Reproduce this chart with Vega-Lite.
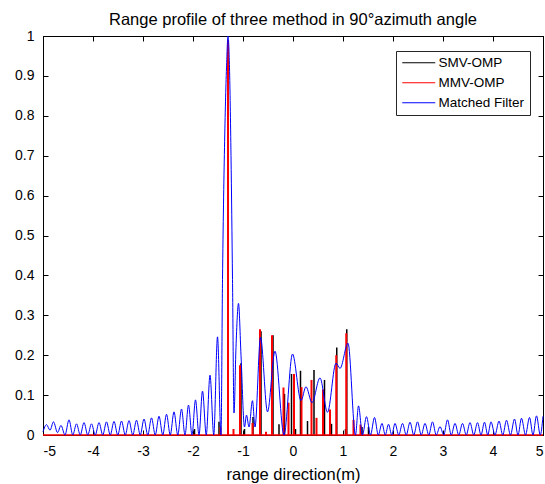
{
"$schema": "https://vega.github.io/schema/vega-lite/v6.json",
"width": 500,
"height": 399,
"autosize": {"type": "none"},
"padding": {"left": 43, "top": 36, "right": 2, "bottom": 49},
"title": {"text": "Range profile of three method in 90°azimuth angle", "fontSize": 16.5, "fontWeight": "normal", "color": "#000", "font": "Liberation Sans", "offset": 1},
"config": {
  "font": "Liberation Sans",
  "view": {"stroke": "#000", "strokeWidth": 1},
  "axis": {"grid": false, "domainColor": "#000", "tickColor": "#000", "labelColor": "#000", "titleColor": "#000", "labelFontSize": 14, "titleFontSize": 16.5, "titleFontWeight": "normal", "tickSize": -5, "labelPadding": 14, "labelFont": "Liberation Sans", "titleFont": "Liberation Sans"}
},
"datasets": {
  "mf": [
    {"x": -5.0, "y": 0.008}, {"x": -4.93, "y": 0.026}, {"x": -4.86, "y": 0.012}, {"x": -4.79, "y": 0.033}, {"x": -4.71, "y": 0.006}, {"x": -4.64, "y": 0.024}, {"x": -4.56, "y": 0}, {"x": -4.48, "y": 0.038}, {"x": -4.405, "y": 0}, {"x": -4.33, "y": 0.028}, {"x": -4.255, "y": 0}, {"x": -4.18, "y": 0.031}, {"x": -4.105, "y": 0}, {"x": -4.03, "y": 0.028}, {"x": -3.955, "y": 0}, {"x": -3.88, "y": 0.031}, {"x": -3.805, "y": 0}, {"x": -3.73, "y": 0.033}, {"x": -3.655, "y": 0}, {"x": -3.58, "y": 0.034}, {"x": -3.505, "y": 0}, {"x": -3.43, "y": 0.035}, {"x": -3.355, "y": 0}, {"x": -3.28, "y": 0.036}, {"x": -3.205, "y": 0}, {"x": -3.13, "y": 0.037}, {"x": -3.055, "y": 0}, {"x": -2.98, "y": 0.04}, {"x": -2.905, "y": 0}, {"x": -2.83, "y": 0.043}, {"x": -2.755, "y": 0}, {"x": -2.68, "y": 0.047}, {"x": -2.605, "y": 0}, {"x": -2.53, "y": 0.052}, {"x": -2.455, "y": 0}, {"x": -2.38, "y": 0.058}, {"x": -2.305, "y": 0}, {"x": -2.23, "y": 0.065}, {"x": -2.16, "y": 0}, {"x": -2.09, "y": 0.075}, {"x": -2.02, "y": 0}, {"x": -1.95, "y": 0.088}, {"x": -1.88, "y": 0}, {"x": -1.81, "y": 0.11}, {"x": -1.735, "y": 0}, {"x": -1.66, "y": 0.15}, {"x": -1.585, "y": 0}, {"x": -1.51, "y": 0.246}, {"x": -1.44, "y": 0},
    {"x": -1.41, "y": 0.39}, {"x": -1.37, "y": 0.72}, {"x": -1.33, "y": 0.92}, {"x": -1.30, "y": 1.0}, {"x": -1.27, "y": 0.92}, {"x": -1.24, "y": 0.7}, {"x": -1.21, "y": 0.39}, {"x": -1.18, "y": 0.055}, {"x": -1.14, "y": 0.22}, {"x": -1.09, "y": 0.33}, {"x": -1.04, "y": 0.2}, {"x": -0.97, "y": 0.02}, {"x": -0.93, "y": 0.05}, {"x": -0.88, "y": 0.02}, {"x": -0.81, "y": 0.086}, {"x": -0.76, "y": 0.02}, {"x": -0.65, "y": 0.245}, {"x": -0.51, "y": 0.058}, {"x": -0.36, "y": 0.21}, {"x": -0.18, "y": 0}, {"x": -0.01, "y": 0.203}, {"x": 0.16, "y": 0.086}, {"x": 0.26, "y": 0.121}, {"x": 0.38, "y": 0.081}, {"x": 0.54, "y": 0.143}, {"x": 0.69, "y": 0.057}, {"x": 0.86, "y": 0.18}, {"x": 0.94, "y": 0.167}, {"x": 1.10, "y": 0.23}, {"x": 1.25, "y": 0},
    {"x": 1.31, "y": 0.073}, {"x": 1.39, "y": 0}, {"x": 1.47, "y": 0.046}, {"x": 1.55, "y": 0}, {"x": 1.63, "y": 0.044}, {"x": 1.705, "y": 0}, {"x": 1.78, "y": 0.029}, {"x": 1.845, "y": 0}, {"x": 1.91, "y": 0.027}, {"x": 1.975, "y": 0}, {"x": 2.04, "y": 0.029}, {"x": 2.115, "y": 0}, {"x": 2.19, "y": 0.029}, {"x": 2.265, "y": 0}, {"x": 2.34, "y": 0.032}, {"x": 2.415, "y": 0}, {"x": 2.49, "y": 0.033}, {"x": 2.565, "y": 0}, {"x": 2.64, "y": 0.029}, {"x": 2.715, "y": 0}, {"x": 2.79, "y": 0.033}, {"x": 2.865, "y": 0}, {"x": 2.94, "y": 0.021}, {"x": 3.015, "y": 0}, {"x": 3.09, "y": 0.038}, {"x": 3.165, "y": 0}, {"x": 3.24, "y": 0.029}, {"x": 3.315, "y": 0}, {"x": 3.39, "y": 0.029}, {"x": 3.465, "y": 0}, {"x": 3.54, "y": 0.031}, {"x": 3.615, "y": 0}, {"x": 3.69, "y": 0.031}, {"x": 3.76, "y": 0}, {"x": 3.83, "y": 0.032}, {"x": 3.895, "y": 0}, {"x": 3.96, "y": 0.033}, {"x": 4.04, "y": 0}, {"x": 4.12, "y": 0.035}, {"x": 4.195, "y": 0}, {"x": 4.27, "y": 0.037}, {"x": 4.35, "y": 0}, {"x": 4.43, "y": 0.04}, {"x": 4.5, "y": 0}, {"x": 4.57, "y": 0.042}, {"x": 4.65, "y": 0}, {"x": 4.73, "y": 0.044}, {"x": 4.8, "y": 0}, {"x": 4.87, "y": 0.048}, {"x": 4.945, "y": 0}, {"x": 5.0, "y": 0.047}
  ],
  "spk": [
    {"x": -1.97, "v": 0.015, "s": "SMV-OMP"}, {"x": -1.48, "v": 0.033, "s": "SMV-OMP"}, {"x": -1.30, "v": 0.98, "s": "SMV-OMP"}, {"x": -1.04, "v": 0.18, "s": "SMV-OMP"}, {"x": -0.97, "v": 0.015, "s": "SMV-OMP"}, {"x": -0.80, "v": 0.045, "s": "SMV-OMP"}, {"x": -0.64, "v": 0.26, "s": "SMV-OMP"}, {"x": -0.40, "v": 0.25, "s": "SMV-OMP"}, {"x": -0.28, "v": 0.027, "s": "SMV-OMP"}, {"x": -0.17, "v": 0.103, "s": "SMV-OMP"}, {"x": -0.03, "v": 0.153, "s": "SMV-OMP"}, {"x": 0.05, "v": 0.015, "s": "SMV-OMP"}, {"x": 0.15, "v": 0.161, "s": "SMV-OMP"}, {"x": 0.29, "v": 0.035, "s": "SMV-OMP"}, {"x": 0.42, "v": 0.163, "s": "SMV-OMP"}, {"x": 0.63, "v": 0.138, "s": "SMV-OMP"}, {"x": 0.77, "v": 0.028, "s": "SMV-OMP"}, {"x": 0.875, "v": 0.219, "s": "SMV-OMP"}, {"x": 1.05, "v": 0.015, "s": "SMV-OMP"}, {"x": 1.075, "v": 0.265, "s": "SMV-OMP"}, {"x": 1.38, "v": 0.02, "s": "SMV-OMP"}, {"x": 1.51, "v": 0.02, "s": "SMV-OMP"},
    {"x": -1.45, "v": 0.02, "s": "MMV-OMP"}, {"x": -1.30, "v": 0.99, "s": "MMV-OMP"}, {"x": -1.19, "v": 0.015, "s": "MMV-OMP"}, {"x": -1.06, "v": 0.175, "s": "MMV-OMP"}, {"x": -0.81, "v": 0.03, "s": "MMV-OMP"}, {"x": -0.66, "v": 0.265, "s": "MMV-OMP"}, {"x": -0.54, "v": 0.008, "s": "MMV-OMP"}, {"x": -0.42, "v": 0.25, "s": "MMV-OMP"}, {"x": -0.19, "v": 0.119, "s": "MMV-OMP"}, {"x": -0.09, "v": 0.081, "s": "MMV-OMP"}, {"x": 0.02, "v": 0.153, "s": "MMV-OMP"}, {"x": 0.17, "v": 0.12, "s": "MMV-OMP"}, {"x": 0.37, "v": 0.138, "s": "MMV-OMP"}, {"x": 0.47, "v": 0.043, "s": "MMV-OMP"}, {"x": 0.60, "v": 0.114, "s": "MMV-OMP"}, {"x": 0.74, "v": 0.064, "s": "MMV-OMP"}, {"x": 0.865, "v": 0.20, "s": "MMV-OMP"}, {"x": 1.065, "v": 0.255, "s": "MMV-OMP"}, {"x": 1.21, "v": 0.038, "s": "MMV-OMP"}, {"x": 1.35, "v": 0.026, "s": "MMV-OMP"}
  ]
},
"resolve": {"axis": {"x": "independent", "y": "independent"}},
"layer": [
  {
    "data": {"name": "spk"},
    "transform": [{"filter": "datum.s === 'SMV-OMP'"}],
    "mark": {"type": "rule", "strokeWidth": 1.5},
    "encoding": {
      "x": {"field": "x", "type": "quantitative", "scale": {"domain": [-5, 5], "nice": false}, "axis": {"orient": "bottom", "values": [-5, -4, -3, -2, -1, 0, 1, 2, 3, 4, 5], "labelExpr": "'' + datum.value", "title": "range direction(m)", "titlePadding": 8}},
      "y": {"field": "v", "type": "quantitative", "scale": {"domain": [0, 1], "nice": false}, "axis": {"orient": "left", "values": [0, 0.1, 0.2, 0.3, 0.4, 0.5, 0.6, 0.7, 0.8, 0.9, 1], "labelExpr": "'' + datum.value", "title": null}},
      "y2": {"datum": 0},
      "color": {"field": "s", "type": "nominal", "scale": {"domain": ["SMV-OMP", "MMV-OMP", "Matched Filter"], "range": ["#000000", "#ff0000", "#0000ff"]},
        "legend": {"title": null, "orient": "none", "legendX": 353, "legendY": 15, "symbolType": "M-1,0H5", "symbolSize": 121, "symbolStrokeWidth": 1, "symbolOffset": 0, "labelOffset": 24, "labelFontSize": 13.5, "labelColor": "#000", "labelFont": "Liberation Sans", "padding": 5, "rowPadding": 5, "strokeColor": "#262626", "fillColor": "#ffffff"}}
    }
  },
  {
    "data": {"name": "spk"},
    "transform": [{"filter": "datum.s === 'MMV-OMP'"}],
    "mark": {"type": "rule", "strokeWidth": 2},
    "encoding": {
      "x": {"field": "x", "type": "quantitative", "axis": null},
      "y": {"field": "v", "type": "quantitative", "axis": null},
      "y2": {"datum": 0},
      "color": {"field": "s", "type": "nominal"}
    }
  },
  {
    "data": {"values": [{}]},
    "mark": {"type": "rule", "color": "#ff0000", "strokeWidth": 1.5},
    "encoding": {"y": {"datum": 0, "type": "quantitative", "axis": null}}
  },
  {
    "data": {"name": "mf"},
    "mark": {"type": "line", "interpolate": "monotone", "strokeWidth": 1},
    "encoding": {
      "x": {"field": "x", "type": "quantitative", "axis": {"orient": "top", "values": [-5, -4, -3, -2, -1, 0, 1, 2, 3, 4, 5], "labels": false, "title": null}},
      "y": {"field": "y", "type": "quantitative", "axis": {"orient": "right", "values": [0, 0.1, 0.2, 0.3, 0.4, 0.5, 0.6, 0.7, 0.8, 0.9, 1], "labels": false, "title": null}},
      "color": {"datum": "Matched Filter"}
    }
  }
]
}
